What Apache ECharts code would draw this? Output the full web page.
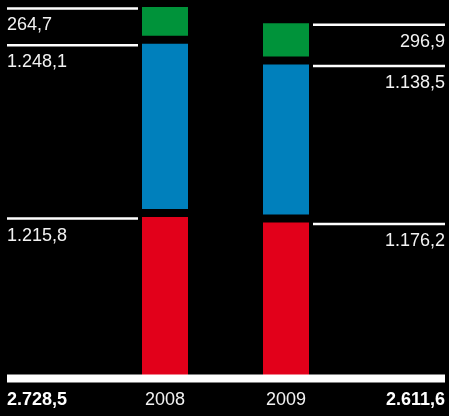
<!DOCTYPE html>
<html>
<head>
<meta charset="utf-8">
<script src="https://cdn.jsdelivr.net/npm/echarts@6/dist/echarts.min.js"></script>
<style>
html,body{margin:0;padding:0;background:#000;}
#c{width:449px;height:416px;}
</style>
</head>
<body>
<div id="c"></div>
<script>
// ---- data ----
const categories = ['2008', '2009'];
const redValues = [1215.8, 1176.2];
const blueValues = [1248.1, 1138.5];
const greenValues = [264.7, 296.9];
const totals = [2728.5, 2611.6];

// German number format: 1215.8 -> "1.215,8"
function fmt(v) {
  const parts = v.toFixed(1).split('.');
  const intPart = parts[0].replace(/\B(?=(\d{3})+(?!\d))/g, '.');
  return intPart + ',' + parts[1];
}

const FONT = '"Liberation Sans", Arial, Helvetica, sans-serif';
const segments = [redValues, blueValues, greenValues];

// annotation items: [categoryIndex, stackedTop, value, kind]
const annotations = [];
categories.forEach((c, i) => {
  let cum = 0;
  segments.forEach((arr, j) => {
    cum += arr[i];
    annotations.push([i, cum, arr[i], j]);
  });
  annotations.push([i, 0, totals[i], -1]);
});

const chart = echarts.init(document.getElementById('c'), null, { renderer: 'canvas' });

const barStyle = (color) => ({ color: color, borderColor: '#000', borderWidth: 4 });

chart.setOption({
  backgroundColor: '#000',
  animation: false,
  grid: { left: 104.5, right: 102.5, top: 0, bottom: 34 },
  xAxis: {
    type: 'category',
    data: categories,
    axisLine: { show: false },
    axisTick: { show: false },
    axisLabel: { color: '#f2f2f2', fontSize: 18, fontFamily: FONT, margin: 9 }
  },
  yAxis: {
    type: 'value', min: 0, max: 2750, show: false,
    splitLine: { show: false }
  },
  series: [
    { type: 'bar', stack: 's', barWidth: 54, data: redValues, itemStyle: barStyle('#e2001a') },
    { type: 'bar', stack: 's', barWidth: 54, data: blueValues, itemStyle: barStyle('#0080bc') },
    { type: 'bar', stack: 's', barWidth: 54, data: greenValues, itemStyle: barStyle('#00933a') },
    {
      type: 'custom',
      data: annotations,
      z: 10,
      renderItem: function (params, api) {
        const ci = api.value(0);
        const top = api.value(1);
        const val = api.value(2);
        const kind = api.value(3);
        const p = api.coord([ci, top]);
        const left = ci === 0;
        const tx = left ? 7 : 445;
        if (kind < 0) {
          return {
            type: 'text',
            style: {
              text: fmt(val), x: tx, y: p[1] + 9,
              align: left ? 'left' : 'right', verticalAlign: 'top',
              fill: '#fff', font: 'bold 18px ' + FONT
            }
          };
        }
        const ly = p[1] + 5.5;
        const x0 = left ? 7 : p[0] + 27;
        const x1 = left ? p[0] - 27 : 445;
        return {
          type: 'group',
          children: [
            { type: 'line', shape: { x1: x0, y1: ly, x2: x1, y2: ly }, style: { stroke: '#fff', lineWidth: 2.5 } },
            {
              type: 'text',
              style: {
                text: fmt(val), x: tx, y: ly + 8,
                align: left ? 'left' : 'right', verticalAlign: 'top',
                fill: '#f2f2f2', font: '18px ' + FONT
              }
            }
          ]
        };
      }
    }
  ],
  graphic: [
    { type: 'rect', z: 100, shape: { x: 7, y: 374.5, width: 438, height: 8 }, style: { fill: '#fff' } }
  ]
});
</script>
</body>
</html>
